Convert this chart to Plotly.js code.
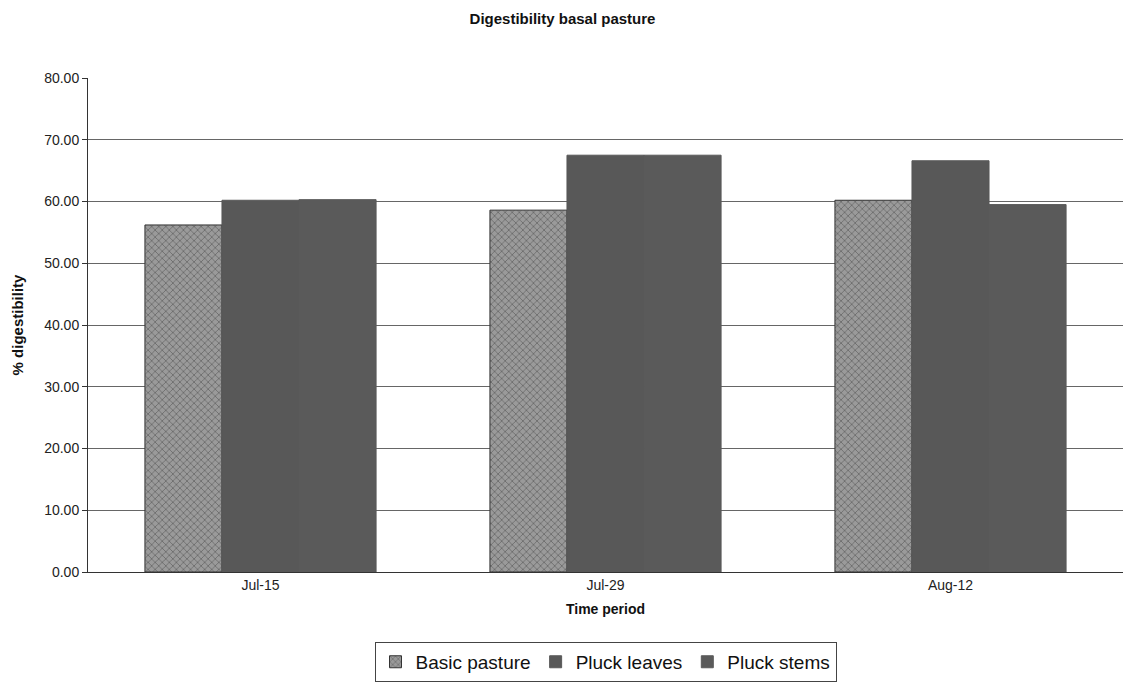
<!DOCTYPE html>
<html>
<head>
<meta charset="utf-8">
<script src="https://cdn.plot.ly/plotly-3.0.1.min.js"></script>
<style>html,body{margin:0;padding:0;background:#fff;}#chart{width:1125px;height:684px;}</style>
</head>
<body>
<div id="chart"></div>
<script>
const categories = ["Jul-15", "Jul-29", "Aug-12"];
const basicPasture = [56.2, 58.6, 60.2];
const pluckLeaves = [60.2, 67.5, 66.6];
const pluckStems = [60.3, 67.5, 59.5];
const yTicks = [0, 10, 20, 30, 40, 50, 60, 70, 80];

const traces = [
  {type: "bar", name: "Basic pasture", x: categories, y: basicPasture,
   marker: {color: "#8c8c8c", line: {color: "#333", width: 1},
            pattern: {shape: "x", fgcolor: "#6a6a6a", bgcolor: "#9a9a9a", size: 5, solidity: 0.3}}},
  {type: "bar", name: "Pluck leaves", x: categories, y: pluckLeaves,
   marker: {color: "#585858", line: {color: "#585858", width: 1}}},
  {type: "bar", name: "Pluck stems", x: categories, y: pluckStems,
   marker: {color: "#5a5a5a", line: {color: "#5a5a5a", width: 1}}}
];

const layout = {
  width: 1125, height: 684,
  paper_bgcolor: "#ffffff", plot_bgcolor: "#ffffff",
  margin: {l: 88, r: 2, t: 78, b: 112},
  font: {family: "Arial, Liberation Sans, sans-serif", color: "#222", size: 14},
  title: {text: "<b>Digestibility basal pasture</b>", x: 0.5, xanchor: "center", y: 0.972, yanchor: "middle",
          font: {size: 15, color: "#111", family: "Arial, Liberation Sans, sans-serif"}},
  barmode: "group", bargap: 0.33, bargroupgap: 0,
  xaxis: {type: "category", showline: true, linecolor: "#333", linewidth: 1, ticks: "",
          tickfont: {size: 14, color: "#222"},
          title: {text: "<b>Time period</b>", standoff: 12, font: {size: 14, color: "#111"}}},
  yaxis: {range: [0, 80], tickvals: yTicks, tickformat: ".2f", showline: true, linecolor: "#333",
          linewidth: 1, ticks: "outside", ticklen: 5, tickcolor: "#333",
          showgrid: true, gridcolor: "#666", gridwidth: 1, zeroline: false,
          tickfont: {size: 14, color: "#222"},
          title: {text: "<b>% digestibility</b>", standoff: 16, font: {size: 15, color: "#111"}}},
  showlegend: true,
  legend: {orientation: "h", x: 0.5, xanchor: "center", y: -0.182, yanchor: "middle",
           bordercolor: "#444", borderwidth: 1, bgcolor: "#fff",
           font: {size: 19, color: "#111"}, itemwidth: 30, tracegroupgap: 0}
};

Plotly.newPlot("chart", traces, layout, {displayModeBar: false, staticPlot: true});
</script>
</body>
</html>
